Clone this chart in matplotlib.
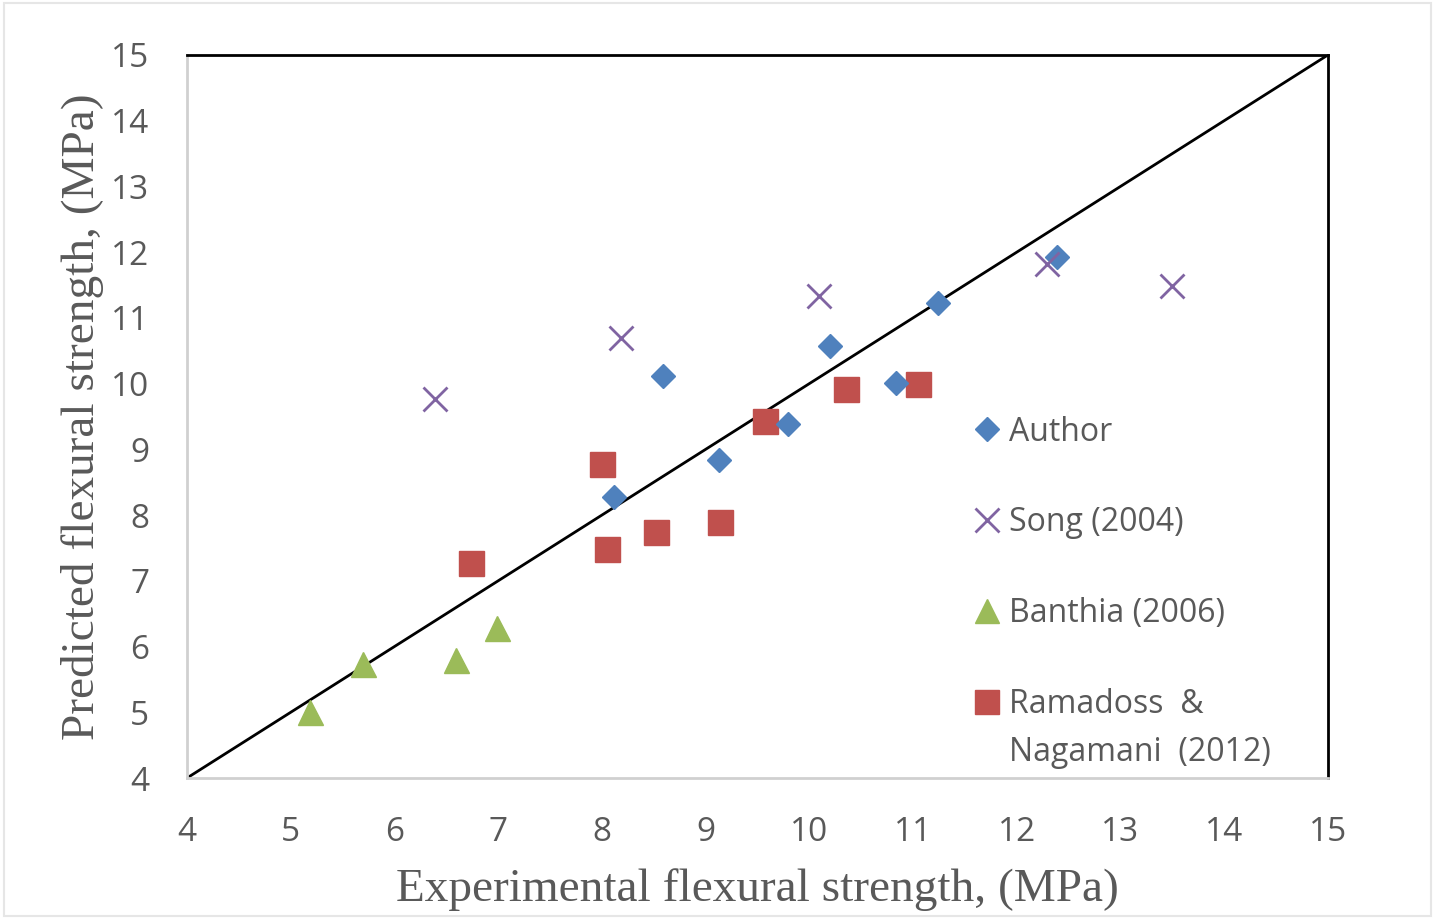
import matplotlib
matplotlib.use('Agg')
import matplotlib.pyplot as plt

author_x = [8.12, 8.59, 9.13, 9.79, 10.20, 10.84, 11.24, 12.39]
author_y = [8.28, 10.12, 8.84, 9.39, 10.57, 10.01, 11.23, 11.93]

song_x = [6.39, 8.18, 10.09, 12.29, 13.50]
song_y = [9.77, 10.69, 11.33, 11.82, 11.49]

banthia_x = [5.19, 5.70, 6.59, 6.99]
banthia_y = [5.00, 5.73, 5.80, 6.28]

ramadoss_x = [6.74, 8.00, 8.05, 8.52, 9.14, 9.57, 10.35, 11.05]
ramadoss_y = [7.27, 8.78, 7.48, 7.74, 7.89, 9.43, 9.92, 9.99]

line_x = [4, 15]
line_y = [4, 15]

ticks = list(range(4, 16))

grey = '#595959'

fig = plt.figure(figsize=(14.35, 9.19), dpi=100)
ax = fig.add_axes([0.1303, 0.1534, 0.7951, 0.7868])

ax.plot(line_x, line_y, color='black', lw=2, zorder=1)

ax.plot(author_x, author_y, 'D', color='#4F81BD', ms=12.5, ls='none', label='Author', zorder=3)
ax.plot(song_x, song_y, 'x', color='#8064A2', ms=17, mew=2, ls='none', label='Song (2004)', zorder=3)
ax.plot(banthia_x, banthia_y, '^', color='#9BBB59', ms=18, ls='none', label='Banthia (2006)', zorder=3)
ax.plot(ramadoss_x, ramadoss_y, 's', color='#C0504D', ms=18, ls='none',
        label='Ramadoss  &', zorder=2)

ax.set_xlim(4, 15)
ax.set_ylim(4, 15)
ax.set_xticks(ticks)
ax.set_yticks(ticks)

for side in ['top', 'right']:
    ax.spines[side].set_color('black')
    ax.spines[side].set_linewidth(2)
for side in ['left', 'bottom']:
    ax.spines[side].set_color('#D0D0D0')
    ax.spines[side].set_linewidth(2)

ax.tick_params(length=0, labelsize=24, labelcolor=grey, pad=27, labelfontfamily='Open Sans')

ax.set_xlabel('Experimental flexural strength, (MPa)', fontsize=34, color=grey,
              family='Liberation Serif', labelpad=14)
ax.set_ylabel('Predicted flexural strength, (MPa)', fontsize=34, color=grey,
              family='Liberation Serif', labelpad=5)

leg = ax.legend(loc='upper left', bbox_to_anchor=(0.662, 0.541), frameon=False,
                labelspacing=1.81, handletextpad=0.2, handlelength=1.0,
                markerscale=0.98, prop={'family': 'Open Sans', 'size': 23})
for t in leg.get_texts():
    t.set_color(grey)

# second line of the last legend label, drawn under "Ramadoss  &"
fig.canvas.draw()
bb = leg.get_texts()[3].get_window_extent()
fig.text(bb.x0 / fig.bbox.width, (bb.y0 - 15) / fig.bbox.height, 'Nagamani  (2012)',
         family='Open Sans', fontsize=23, color=grey, ha='left', va='top')

# faint frame around the whole picture
fig.patches.append(plt.Rectangle((0.003, 0.003), 0.994, 0.994, transform=fig.transFigure,
                                 fill=False, edgecolor='#E6E6E6', lw=1.5))

fig.savefig('out.png', dpi=100)
